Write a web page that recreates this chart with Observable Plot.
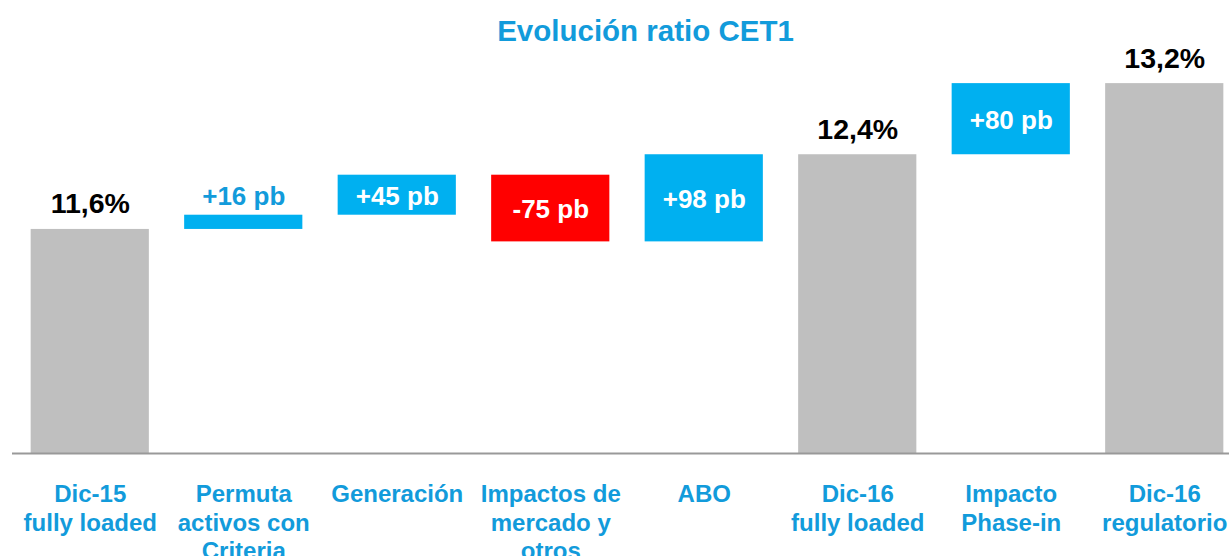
<!DOCTYPE html>
<html>
<head>
<meta charset="utf-8">
<script src="https://cdn.jsdelivr.net/npm/d3@7"></script>
<script src="https://cdn.jsdelivr.net/npm/@observablehq/plot@0.6"></script>
<style>
  html, body { margin: 0; padding: 0; background: #fff; overflow: hidden; }
  #title {
    height: 50px; box-sizing: border-box; padding-top: 16px; padding-left: 62px;
    text-align: center; font: bold 29.5px "Liberation Sans", Arial, sans-serif;
    line-height: 29px; color: #129bdb; white-space: nowrap;
  }
  #chart svg { overflow: visible; display: block; }
</style>
</head>
<body>
<div id="title">Evolución ratio CET1</div>
<div id="chart"></div>
<script>
// ---- data ----
const categories = [
  "Dic-15\nfully loaded",
  "Permuta\nactivos con\nCriteria",
  "Generación",
  "Impactos de\nmercado y\notros",
  "ABO",
  "Dic-16\nfully loaded",
  "Impacto\nPhase-in",
  "Dic-16\nregulatorio"
];
const kinds  = ["total", "delta", "delta", "delta", "delta", "total", "delta", "total"];
const values = [11.6, 16, 45, -75, 98, 12.4, 80, 13.2]; // % for totals, pb for deltas

// ---- build waterfall table ----
const yBase = 9.08;
let cum = 0;
const rows = categories.map((c, i) => {
  const k = kinds[i], v = values[i];
  let y1, y2, label, fill;
  if (k === "total") {
    if (i === 0) cum = v;
    y1 = yBase; y2 = cum;
    label = d3.format(".1f")(v).replace(".", ",") + "%";
    fill = "#bfbfbf";
  } else {
    y1 = cum; y2 = cum + v / 100; cum = y2;
    label = (v > 0 ? "+" : "") + v + " pb";
    fill = v >= 0 ? "#00b0f0" : "#ff0000";
  }
  return {cat: c, kind: k, y1, y2, top: Math.max(y1, y2), mid: (y1 + y2) / 2,
          small: k === "delta" && Math.abs(v) < 30, label, fill};
});

const font = '"Liberation Sans", Arial, sans-serif';
const blueText = "#129bdb";

const chart = Plot.plot({
  width: 1229,
  height: 506,
  marginTop: 10,
  marginBottom: 103,
  marginLeft: 12,
  marginRight: 0,
  style: {fontFamily: font, overflow: "visible", background: "white"},
  x: {domain: categories, range: [13, 1241], paddingInner: 0.23, paddingOuter: 0.115, round: false, axis: null},
  y: {domain: [yBase, 13.5], axis: null},
  marks: [
    Plot.barY(rows, {x: "cat", y1: "y1", y2: "y2", fill: "fill"}),
    Plot.ruleY([yBase], {stroke: "#999999", strokeWidth: 2}),
    // totals labels
    Plot.text(rows.filter(d => d.kind === "total"), {
      x: "cat", y: "top", text: "label", lineAnchor: "bottom", dy: -16,
      fontSize: 28.5, fontWeight: "bold", fill: "#000"
    }),
    // small delta labels above bar
    Plot.text(rows.filter(d => d.small), {
      x: "cat", y: "top", text: "label", lineAnchor: "bottom", dy: -10,
      fontSize: 26, fontWeight: "bold", fill: blueText
    }),
    // delta labels inside bar
    Plot.text(rows.filter(d => d.kind === "delta" && !d.small), {
      x: "cat", y: "mid", text: "label", lineAnchor: "middle", dy: 1,
      fontSize: 26, fontWeight: "bold", fill: "#fff"
    }),
    // category labels
    Plot.text(rows, {
      x: "cat", y: () => yBase, text: "cat", lineAnchor: "top", dy: 29,
      fontSize: 24, fontWeight: "bold", fill: blueText, lineHeight: 1.17
    })
  ]
});
document.getElementById("chart").appendChild(chart);
</script>
</body>
</html>
